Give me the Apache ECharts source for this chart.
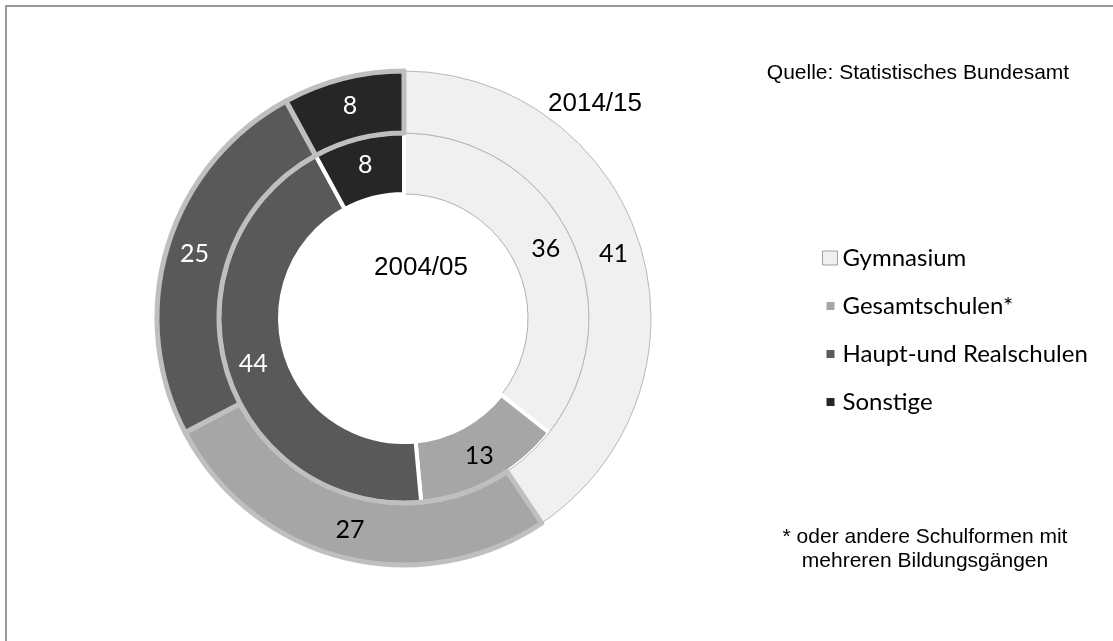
<!DOCTYPE html>
<html>
<head>
<meta charset="utf-8">
<script src="https://cdn.jsdelivr.net/npm/echarts@6/dist/echarts.min.js"></script>
<style>
  html, body { margin: 0; padding: 0; background: #fff; }
  #chart { width: 1113px; height: 641px; }
</style>
</head>
<body>
<div id="chart"></div>
<script>
// Schulformen
const categories = ['Gymnasium', 'Gesamtschulen*', 'Haupt-und Realschulen', 'Sonstige'];
// Anteile in %
const values2004 = [36, 13, 44, 8];
const values2014 = [41, 27, 25, 8];
const yearInner = '2004/05';
const yearOuter = '2014/15';
const sourceText = 'Quelle: Statistisches Bundesamt';
const noteText = '* oder andere Schulformen mit\nmehreren Bildungsgängen';

const fills = ['#f0f0f0', '#a6a6a6', '#595959', '#262626'];
const labelColors = ['#000', '#000', '#fff', '#fff'];
const ringGray = '#bfbfbf';
const numFont = 'Lato, "Open Sans", sans-serif';
const arial = '"Liberation Sans", Arial, sans-serif';

const center = [404, 318];

const innerData = values2004.map((v, i) => ({
  name: categories[i],
  value: v,
  itemStyle: {
    color: fills[i],
    borderColor: i === 0 ? '#b0b0b0' : '#ffffff',
    borderWidth: i === 0 ? 1 : 4,
  },
  label: { color: labelColors[i] },
}));

const outerData = values2014.map((v, i) => ({
  name: categories[i],
  value: v,
  itemStyle: {
    color: fills[i],
    borderColor: i === 0 ? '#b8b8b8' : ringGray,
    borderWidth: i === 0 ? 1 : 5,
  },
  label: { color: labelColors[i] },
}));

// kleines Quadrat im 15x14-Rahmen
const smallIcon = 'path://M0,0M15,14M4,3h8v8h-8z';

const chart = echarts.init(document.getElementById('chart'));

const option = {
  animation: false,
  backgroundColor: '#fff',
  legend: {
    orient: 'vertical',
    left: 817,
    top: 241,
    itemWidth: 15,
    itemHeight: 14,
    itemGap: 24,
    itemTextGap: 8,
    selectedMode: false,
    textStyle: { fontFamily: numFont, fontSize: 24, color: '#000' },
    data: categories.map((name, i) => ({
      name,
      icon: i === 0 ? 'rect' : smallIcon,
      itemStyle: i === 0
        ? { color: fills[0], borderColor: '#a0a0a0', borderWidth: 1 }
        : { color: fills[i], borderWidth: 0 },
    })),
  },
  graphic: [
    {
      type: 'rect',
      silent: true,
      shape: { x: 6, y: 6, width: 1200, height: 700 },
      style: { fill: 'none', stroke: '#999', lineWidth: 2 },
    },
    {
      type: 'text',
      x: 595, y: 104,
      style: { text: yearOuter, font: '26px ' + arial, fill: '#000', align: 'center', verticalAlign: 'middle' },
    },
    {
      type: 'text',
      x: 421, y: 268,
      style: { text: yearInner, font: '26px ' + arial, fill: '#000', align: 'center', verticalAlign: 'middle' },
    },
    {
      type: 'text',
      x: 918, y: 73,
      style: { text: sourceText, font: '21px ' + arial, fill: '#000', align: 'center', verticalAlign: 'middle' },
    },
    {
      type: 'text',
      x: 925, y: 549,
      style: { text: noteText, font: '21px ' + arial, fill: '#000', align: 'center', verticalAlign: 'middle', lineHeight: 24 },
    },
  ],
  series: [
    {
      name: yearInner,
      type: 'pie',
      center: center,
      radius: [124, 185],
      startAngle: 90,
      clockwise: true,
      avoidLabelOverlap: false,
      emphasis: { disabled: true },
      label: {
        show: true,
        position: 'inside',
        formatter: '{c}',
        fontFamily: numFont,
        fontSize: 25,
      },
      labelLine: { show: false },
      data: innerData,
    },
    {
      name: yearOuter,
      type: 'pie',
      center: center,
      radius: [185, 247],
      startAngle: 90,
      clockwise: true,
      avoidLabelOverlap: false,
      emphasis: { disabled: true },
      label: {
        show: true,
        position: 'inside',
        formatter: '{c}',
        fontFamily: numFont,
        fontSize: 25,
      },
      labelLine: { show: false },
      data: outerData,
    },
  ],
};

chart.setOption(option);
window.addEventListener('resize', () => chart.resize());
</script>
</body>
</html>
